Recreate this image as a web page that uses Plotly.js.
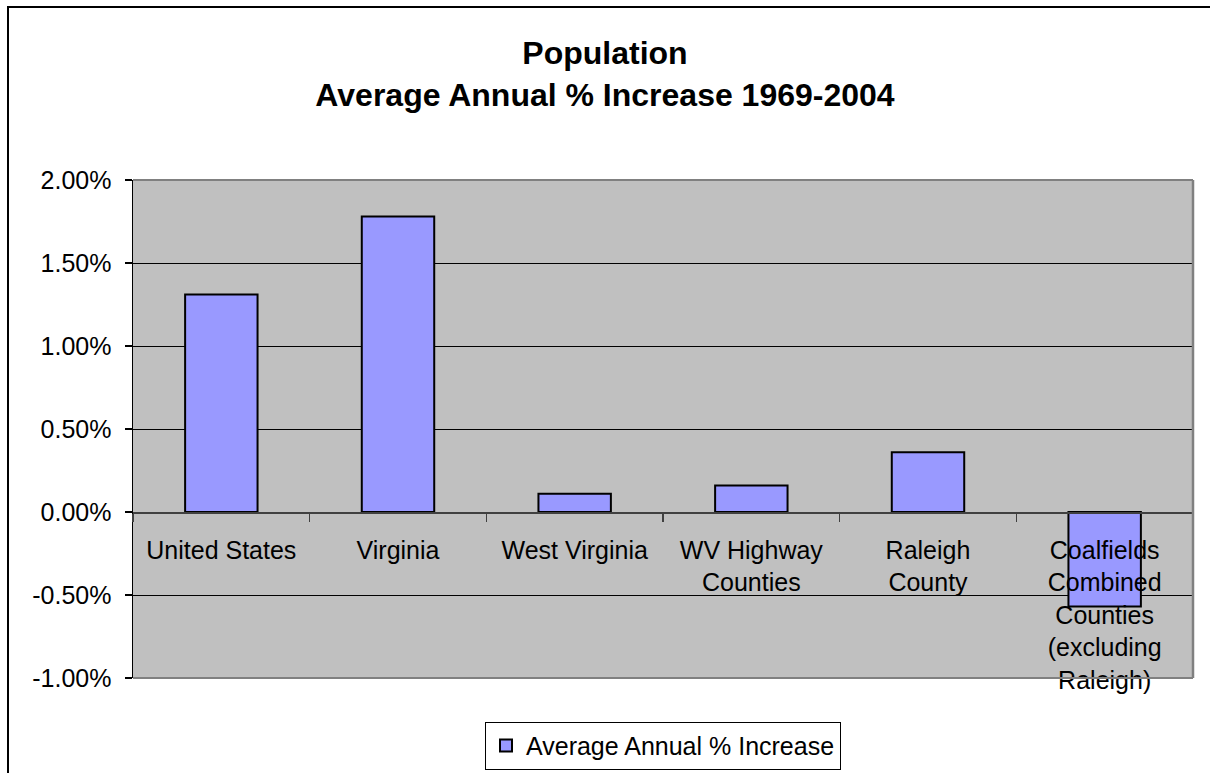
<!DOCTYPE html>
<html>
<head>
<meta charset="utf-8">
<script src="https://cdn.plot.ly/plotly-3.0.1.min.js"></script>
<style>
  html, body { margin: 0; padding: 0; background: #ffffff; }
  #wrap { position: relative; width: 1210px; height: 773px; overflow: hidden; }
  #chart { position: absolute; left: 0; top: 0; width: 1210px; height: 773px; }
  #frame { position: absolute; left: 7px; top: 6px; width: 1400px; height: 1000px;
           border: 2px solid #000; pointer-events: none; box-sizing: border-box; }
</style>
</head>
<body>
<div id="wrap">
  <div id="chart"></div>
  <div id="frame"></div>
</div>
<script>
const categories = [
  "United States",
  "Virginia",
  "West Virginia",
  "WV Highway<br>Counties",
  "Raleigh<br>County",
  "Coalfields<br>Combined<br>Counties<br>(excluding<br>Raleigh)"
];
const seriesName = "Average Annual % Increase";
const values = [0.0131, 0.0178, 0.0011, 0.0016, 0.0036, -0.0057];
const yTickVals = [-0.01, -0.005, 0, 0.005, 0.01, 0.015, 0.02];
const yTickText = ["-1.00%", "-0.50%", "0.00%", "0.50%", "1.00%", "1.50%", "2.00%"];
const yRange = [-0.01, 0.02];

const FONT = 'Arial, "Liberation Sans", sans-serif';
const zeroPos = (0 - yRange[0]) / (yRange[1] - yRange[0]);

const trace = {
  type: "bar",
  x: categories,
  y: values,
  name: seriesName,
  marker: { color: "#9999FF", line: { color: "#000000", width: 2 } },
  showlegend: true,
  hoverinfo: "skip"
};

const layout = {
  width: 1210,
  height: 773,
  margin: { l: 133, r: 17, t: 180, b: 95, autoexpand: false },
  paper_bgcolor: "rgba(0,0,0,0)",
  plot_bgcolor: "#C0C0C0",
  font: { family: FONT, size: 25, color: "#000000" },
  title: {
    text: "<b>Population<br>Average Annual % Increase 1969-2004</b>",
    font: { family: FONT, size: 32, color: "#000000" },
    xref: "container", x: 0.5, xanchor: "center",
    yref: "container", y: 1 - 64 / 773, yanchor: "middle"
  },
  bargap: 0.59,
  showlegend: true,
  legend: {
    orientation: "h",
    x: 0.5, xanchor: "center",
    y: -0.088, yanchor: "top",
    bgcolor: "#ffffff",
    bordercolor: "#000000",
    borderwidth: 1,
    font: { family: FONT, size: 25, color: "#000000" }
  },
  xaxis: {
    type: "category",
    anchor: "free",
    position: zeroPos,
    showline: true,
    linecolor: "#404040",
    linewidth: 1.5,
    ticks: "outside",
    tickson: "boundaries",
    ticklen: 8,
    tickcolor: "#404040",
    tickwidth: 1.5,
    showgrid: false,
    zeroline: false,
    tickfont: { family: FONT, size: 25, color: "#000000" },
    ticklabelstandoff: 15,
    automargin: false,
    fixedrange: true
  },
  yaxis: {
    range: yRange,
    tickvals: yTickVals,
    ticktext: yTickText,
    showline: true,
    linecolor: "#000000",
    linewidth: 1.5,
    ticks: "outside",
    ticklen: 7,
    tickcolor: "#000000",
    tickwidth: 1.5,
    showgrid: true,
    gridcolor: "#000000",
    gridwidth: 1,
    zeroline: false,
    tickfont: { family: FONT, size: 25, color: "#000000" },
    ticklabelstandoff: 8,
    automargin: false,
    fixedrange: true
  },
  shapes: [
    { type: "line", xref: "paper", yref: "paper", x0: 0, x1: 1, y0: 1, y1: 1, line: { color: "#808080", width: 2 } },
    { type: "line", xref: "paper", yref: "paper", x0: 1, x1: 1, y0: 0, y1: 1, line: { color: "#808080", width: 2.5 } },
    { type: "line", xref: "paper", yref: "paper", x0: 0, x1: 1, y0: 0, y1: 0, line: { color: "#808080", width: 2 } }
  ],
  hovermode: false
};

Plotly.newPlot("chart", [trace], layout, { displayModeBar: false, staticPlot: true });
</script>
</body>
</html>
